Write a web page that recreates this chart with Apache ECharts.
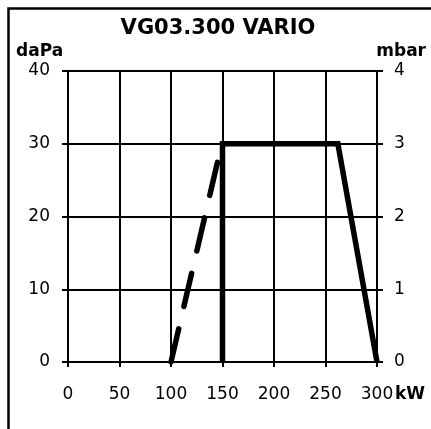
<!DOCTYPE html>
<html>
<head>
<meta charset="utf-8">
<script src="https://cdn.jsdelivr.net/npm/echarts@6/dist/echarts.min.js"></script>
<style>
html,body{margin:0;padding:0;background:#fff;}
#chart{width:431px;height:429px;}
</style>
</head>
<body>
<div id="chart"></div>
<script>
// VG03.300 VARIO - pressure vs power
var xTicks = [0, 50, 100, 150, 200, 250, 300];
var daPaTicks = [0, 10, 20, 30, 40];
var mbarTicks = [0, 1, 2, 3, 4];
// solid working range (kW, daPa)
var rangeKW = [150, 150, 262, 300];
var rangeDaPa = [0, 30, 30, 0];
// dashed start line (kW, daPa)
var startKW = [100, 146];
var startDaPa = [0, 28];

function pairs(xs, ys){
	var out = [];
	for(var i=0;i<xs.length;i++){
		out.push([xs[i], ys[i]]);
	}
	return out;
}

var labelFont = 'DejaVu Sans';
var myChart = echarts.init(document.getElementById('chart'));
var option = {
	backgroundColor: '#fff',
	animation: false,
	grid: {left: 68, right: 54, top: 71, bottom: 67},
	xAxis: {
		type: 'value',
		min: xTicks[0], max: xTicks[xTicks.length-1], interval: 50,
		axisLine: {show: true, onZero: false, lineStyle: {color: '#000', width: 2}},
		axisTick: {show: true, length: 5, lineStyle: {color: '#000', width: 2}},
		axisLabel: {color: '#000', fontSize: 17, fontFamily: labelFont, margin: 24},
		splitLine: {show: true, lineStyle: {color: '#000', width: 2}}
	},
	yAxis: [{
		type: 'value',
		min: daPaTicks[0], max: daPaTicks[daPaTicks.length-1], interval: 10,
		axisLine: {show: true, lineStyle: {color: '#000', width: 2}},
		axisTick: {show: true, length: 6, lineStyle: {color: '#000', width: 2}},
		axisLabel: {color: '#000', fontSize: 17, fontFamily: labelFont, margin: 18},
		splitLine: {show: true, lineStyle: {color: '#000', width: 2}}
	},{
		type: 'value', position: 'right',
		min: mbarTicks[0], max: mbarTicks[mbarTicks.length-1], interval: 1,
		axisLine: {show: true, lineStyle: {color: '#000', width: 2}},
		axisTick: {show: true, length: 6, lineStyle: {color: '#000', width: 2}},
		axisLabel: {color: '#000', fontSize: 17, fontFamily: labelFont, margin: 17},
		splitLine: {show: false}
	}],
	series: [{
		type: 'line',
		data: pairs(rangeKW, rangeDaPa),
		showSymbol: false, symbol: 'none',
		lineStyle: {color: '#000', width: 5.5, join: 'miter'}
	},{
		type: 'line',
		data: pairs(startKW, startDaPa),
		showSymbol: false, symbol: 'none',
		lineStyle: {color: '#000', width: 5.5, type: [34, 23], cap: 'round'}
	}],
	graphic: [{
		type: 'polyline',
		shape: {points: [[8.5, 429], [8.5, 8.5], [431, 8.5]]},
		style: {stroke: '#000', lineWidth: 2.5, fill: null}
	},{
		type: 'text',
		style: {text: 'VG03.300 VARIO', x: 218, y: 29, textAlign: 'center', textVerticalAlign: 'middle',
			font: 'bold 21px "DejaVu Sans"', fill: '#000'}
	},{
		type: 'text',
		style: {text: 'daPa', x: 16, y: 52, textAlign: 'left', textVerticalAlign: 'middle',
			font: 'bold 17px "DejaVu Sans"', fill: '#000'}
	},{
		type: 'text',
		style: {text: 'mbar', x: 426, y: 52, textAlign: 'right', textVerticalAlign: 'middle',
			font: 'bold 17px "DejaVu Sans"', fill: '#000'}
	},{
		type: 'text',
		style: {text: 'kW', x: 395, y: 395, textAlign: 'left', textVerticalAlign: 'middle',
			font: 'bold 17px "DejaVu Sans"', fill: '#000'}
	}]
};
myChart.setOption(option);
</script>
</body>
</html>
